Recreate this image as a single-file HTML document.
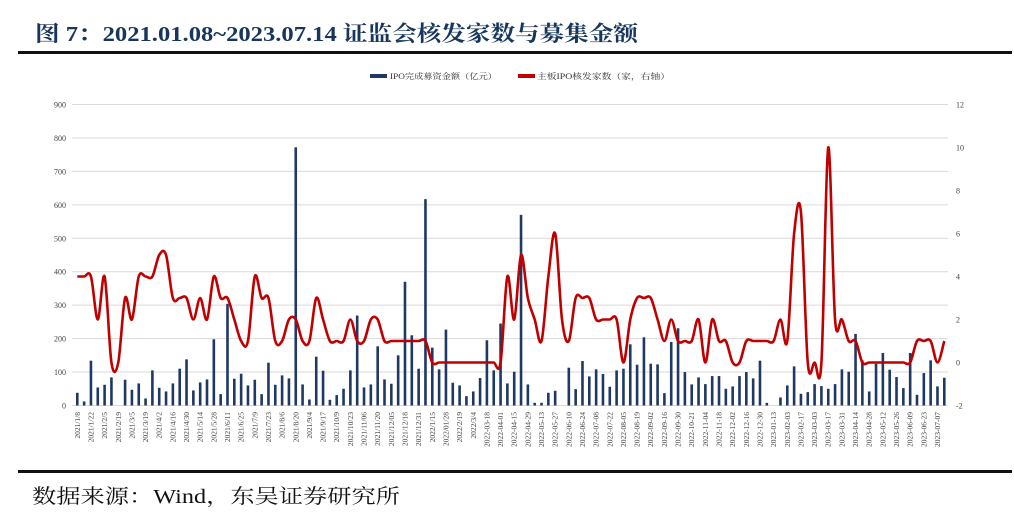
<!DOCTYPE html>
<html><head><meta charset="utf-8"><style>
html,body{margin:0;padding:0;background:#fff;}
body{width:1014px;height:528px;position:relative;overflow:hidden;}
</style></head><body>
<svg id="chart" width="1014" height="528" xmlns="http://www.w3.org/2000/svg" style="position:absolute;left:0;top:0">
<text x="35" y="41" font-family="'Liberation Serif','Noto Serif CJK SC',serif" font-weight="bold" font-size="21.5" fill="#17365d" textLength="603" lengthAdjust="spacingAndGlyphs">图 7：2021.01.08~2023.07.14 证监会核发家数与募集金额</text>
<rect x="18" y="51" width="994" height="3" fill="#111"/>
<g id="grid"></g>
<g id="bars"></g>
<path id="line" fill="none" stroke="#c00000" stroke-width="2.6" stroke-linejoin="round"/>
<g id="ylab"></g>
<g id="y2lab"></g>
<g id="xlab"></g>
<g font-family="'Liberation Serif','Noto Serif CJK SC',serif" font-size="8" fill="#333">
<rect x="370" y="74" width="17" height="4" fill="#1f3864"/>
<text x="390" y="79" textLength="107" lengthAdjust="spacingAndGlyphs">IPO完成募资金额（亿元）</text>
<rect x="518" y="74" width="17" height="4" fill="#c00000"/>
<text x="537" y="79" textLength="133" lengthAdjust="spacingAndGlyphs">主板IPO核发家数（家，右轴）</text>
</g>
<rect x="18" y="470" width="994" height="3" fill="#111"/>
<text x="32" y="503" font-family="'Liberation Serif','Noto Serif CJK SC',serif" font-size="20" fill="#111" textLength="368" lengthAdjust="spacingAndGlyphs">数据来源：Wind，东吴证券研究所</text>
</svg>
<script>
const amounts=[38,12,134,54,62,84,0,77,47,66,21,105,53,42,66,110,138,45,69,78,198,34,304,80,
95,60,77,34,128,62,90,81,772,63,18,146,104,17,31,50,105,269,54,63,177,78,65,150,370,
210,110,617,173,108,227,68,60,28,42,82,195,105,245,66,101,570,63,8,8,38,44,0,113,49,
133,87,108,94,56,105,110,183,122,204,125,123,37,190,231,100,63,84,64,88,88,50,57,88,100,
81,134,8,0,24,60,117,35,40,64,58,50,64,108,101,214,135,42,125,157,107,85,52,157,32,97,135,57,83];
const counts=[4,4,4,2,4,0,0,3,2,4,4,4,5,5,3,3,3,2,3,2,4,3,3,2,
1,1,4,3,3,1,1,2,2,1,1,3,2,1,1,1,2,1,1,2,2,1,1,1,1,
1,1,1,0,0,0,0,0,0,0,0,0,0,0,4,2,5,3,2,1,4,6,2,1,3,
3,3,2,2,2,2,0,2,3,3,3,2,1,2,1,1,1,2,0,2,1,1,0,0,1,
1,1,1,1,2,1,6,7,0,0,0,10,2,2,1,1,0,0,0,0,0,0,0,0,1,1,1,0,1];
const xLabels=["2021/1/8","2021/1/22","2021/2/5","2021/2/19","2021/3/5","2021/3/19","2021/4/2","2021/4/16","2021/4/30","2021/5/14","2021/5/28","2021/6/11","2021/6/25","2021/7/9","2021/7/23","2021/8/6","2021/8/20","2021/9/4","2021/9/17","2021/10/9","2021/10/23","2021/11/06","2021/11/20","2021/12/05","2021/12/18","2021/12/31","2022/1/15","2022/01/28","2022/2/19","2022/3/4","2022-03-18","2022-04-01","2022-04-15","2022-04-29","2022-05-13","2022-05-27","2022-06-10","2022-06-24","2022-07-08","2022-07-22","2022-08-05","2022-08-19","2022-09-02","2022-09-16","2022-09-30","2022-10-21","2022-11-04","2022-11-18","2022-12-02","2022-12-16","2022-12-30","2023-01-13","2023-02-03","2023-02-17","2023-03-03","2023-03-17","2023-03-31","2023-04-14","2023-04-28","2023-05-12","2023-05-26","2023-06-09","2023-06-23","2023-07-07"];
const leftTicks=[0,100,200,300,400,500,600,700,800,900];
const rightTicks=[-2,0,2,4,6,8,10,12];

const NS="http://www.w3.org/2000/svg";
const x0=77.3,x1=944.3,yB=405.5,yT=104.5;
const n=amounts.length;
function xs(i){return x0+(x1-x0)*i/(n-1);}
function yl(v){return yB-(yB-yT)*v/900;}
function yr(v){return yB-(yB-yT)*(v+2)/14;}
function mk(tag,attrs,parent){const e=document.createElementNS(NS,tag);for(const k in attrs)e.setAttribute(k,attrs[k]);parent.appendChild(e);return e;}
const font="'Liberation Serif','Noto Serif CJK SC',serif";
const grid=document.getElementById('grid'),ylab=document.getElementById('ylab'),y2=document.getElementById('y2lab');
leftTicks.forEach(t=>{
  const l=mk('line',{x1:72,x2:948,y1:yl(t),y2:yl(t),stroke:'#d9d9d9','stroke-width':1},grid);
  
  
  const tx=mk('text',{x:66,y:yl(t)+3,'text-anchor':'end','font-size':8,'font-family':font,fill:'#444'},ylab);
  tx.textContent=t;
  
  
});
rightTicks.forEach(t=>{
  const tx=mk('text',{x:956,y:yr(t)+3,'font-size':8,'font-family':font,fill:'#444'},y2);
  tx.textContent=t;
  
  
});
const bars=document.getElementById('bars');
amounts.forEach((v,i)=>{
  if(v<=0)return;
  const r=mk('rect',{x:xs(i)-1.3,y:yl(v),width:2.6,height:yB-yl(v),fill:'#1f3864'},bars);
  
  
});
const pts=counts.map((v,i)=>[xs(i),yr(v)]);
let d='M'+pts[0][0]+','+pts[0][1];
for(let i=0;i<pts.length-1;i++){
  const p0=pts[i-1]||pts[i],p1=pts[i],p2=pts[i+1],p3=pts[i+2]||p2;
  const t=1/6;
  d+=' C'+(p1[0]+(p2[0]-p0[0])*t)+','+(p1[1]+(p2[1]-p0[1])*t)+' '+(p2[0]-(p3[0]-p1[0])*t)+','+(p2[1]-(p3[1]-p1[1])*t)+' '+p2[0]+','+p2[1];
}
document.getElementById('line').setAttribute('d',d);
const xl=document.getElementById('xlab');
xLabels.forEach((s,k)=>{
  const x=xs(k*2)+2.5;
  const tx=mk('text',{x:0,y:0,transform:'translate('+x+',412) rotate(-90)','text-anchor':'end','font-size':7.5,'font-family':font,fill:'#444'},xl);
  tx.textContent=s;
  
  
});
</script>
</body></html>
